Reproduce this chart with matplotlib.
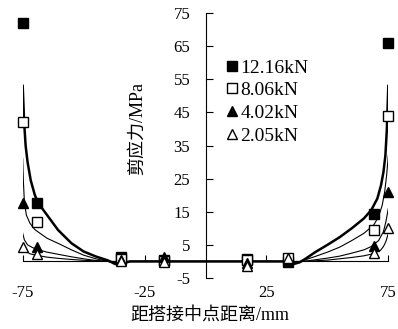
import matplotlib
matplotlib.use("Agg")
import matplotlib.pyplot as plt
from matplotlib.lines import Line2D

plt.rcParams['font.family'] = ['Liberation Serif', 'Noto Sans CJK SC']
plt.rcParams['axes.unicode_minus'] = False

# 试验点 (距搭接中点距离 mm, 剪应力 MPa)
x_pts = [-75, -69, -34.5, -17, 17, 34, 69, 75]
pts_1216 = [72, 17.5, 1.3, 0.5, 0.7, -0.3, 14.4, 66]
pts_806 = [42, 12, 0.8, 0.2, 0.3, 1.0, 9.6, 44]
pts_402 = [17.6, 4.5, 0.5, 1.2, -0.5, 0.3, 4.8, 21]
pts_205 = [4.5, 2.1, 0.0, -0.2, -1.5, 0.9, 2.4, 10]

# 计算曲线
x_c1216 = [-75, -74.4, -73.8, -73, -71.7, -70, -68.5, -65, -60.5, -55, -50, -45, -40, -37, -33.5, -31,
           34, 36, 38.5, 41, 45, 50, 55, 60, 65, 68, 70.5, 72, 73, 73.8, 74.4, 75]
y_c1216 = [53, 42, 35, 30, 24.5, 20, 17.5, 14, 9.5, 5.5, 3, 1.5, 0.3, -0.8, -0.5, 0,
           0, -0.8, -0.3, 0.8, 2.8, 5, 7.3, 10, 13, 15.5, 19, 23, 27, 32, 40, 53]

x_c806 = [-75, -74.7, -74.3, -73.5, -72, -70, -65, -60, -55, -50, -45, -40, -37, -34, -31,
          34, 36, 39, 45, 50, 55, 60, 65, 69, 71, 72.5, 73.5, 74.3, 75]
y_c806 = [31, 24, 18, 14, 11.5, 9.6, 7, 5.3, 3.5, 1.9, 0.8, 0, -0.5, -0.3, 0,
          0, -0.6, 0, 1.5, 2.8, 4.3, 6.3, 8.5, 11, 13.5, 17, 21, 26, 32]

x_c402 = [-75, -74.3, -73, -71, -69, -65, -60, -55, -50, -45, -40, -37, -31,
          34, 36, 40, 45, 50, 55, 60, 65, 68, 71, 73, 74, 75]
y_c402 = [8.5, 6.5, 5, 4.2, 3.6, 2.8, 2.1, 1.4, 0.8, 0.3, 0, -0.3, 0,
          0, -0.4, 0, 0.5, 1, 1.6, 2.5, 3.5, 4.5, 6.3, 9, 12, 16]

x_c205 = [-75, -74, -72, -69, -65, -60, -55, -50, -45, -40, -31,
          34, 40, 45, 50, 55, 60, 65, 68, 71.7, 73, 74, 75]
y_c205 = [4.5, 3.2, 2.3, 1.8, 1.3, 0.9, 0.6, 0.35, 0.15, 0, 0,
          0, 0, 0.2, 0.4, 0.8, 1.2, 1.7, 2.2, 3.3, 4.5, 6, 8.5]

labels = ['12.16kN', '8.06kN', '4.02kN', '2.05kN']

fig = plt.figure(figsize=(3.98, 3.29), dpi=100)
ax = fig.add_axes([0.057, 0.155, 0.9187, 0.8055])

ax.plot(x_c205, y_c205, color='black', lw=0.8)
ax.plot(x_c402, y_c402, color='black', lw=0.8)
ax.plot(x_c806, y_c806, color='black', lw=0.8)
ax.plot(x_c1216, y_c1216, color='black', lw=1.8)

ms = 7.5
ax.plot(x_pts, pts_1216, ls='none', marker='s', ms=ms, mfc='black', mec='black', clip_on=False, zorder=5)
ax.plot(x_pts, pts_806, ls='none', marker='s', ms=ms, mfc='white', mec='black', mew=1, clip_on=False, zorder=5)
ax.plot(x_pts, pts_402, ls='none', marker='^', ms=ms, mfc='black', mec='black', clip_on=False, zorder=6)
ax.plot(x_pts, pts_205, ls='none', marker='^', ms=ms, mfc='white', mec='black', mew=1, clip_on=False, zorder=6)

ax.set_xlim(-75, 75)
ax.set_ylim(-5, 75)
ax.spines['top'].set_visible(False)
ax.spines['right'].set_visible(False)
ax.spines['left'].set_position(('data', 0))
ax.spines['bottom'].set_position(('data', 0))
ax.spines['left'].set_linewidth(0.8)
ax.spines['bottom'].set_linewidth(0.8)

ax.set_xticks([-75, -25, 25, 75])
ax.set_yticks(range(-5, 76, 10))
ax.tick_params(axis='x', direction='in', length=4, width=0.8, pad=17, labelsize=12)
ax.tick_params(axis='y', direction='in', length=5, width=0.8, pad=11, labelsize=12)

fig.text(137 / 398, 1 - 128 / 329, '剪应力/MPa', rotation=90, ha='center', va='center', fontsize=13)
fig.text(210 / 398, 1 - 315 / 329, '距搭接中点距离/mm', ha='center', va='center', fontsize=13)

handles = [
    Line2D([], [], ls='none', marker='s', ms=7.5, mfc='black', mec='black'),
    Line2D([], [], ls='none', marker='s', ms=7.5, mfc='white', mec='black'),
    Line2D([], [], ls='none', marker='^', ms=7.5, mfc='black', mec='black'),
    Line2D([], [], ls='none', marker='^', ms=7.5, mfc='white', mec='black'),
]
fig.legend(handles, labels, loc='upper left', bbox_to_anchor=(226 / 398, 1 - 59 / 329),
           frameon=False, fontsize=14, handlelength=0.6, handletextpad=0.15,
           labelspacing=0.26, borderpad=0, borderaxespad=0)

fig.savefig('out.png', dpi=100)
